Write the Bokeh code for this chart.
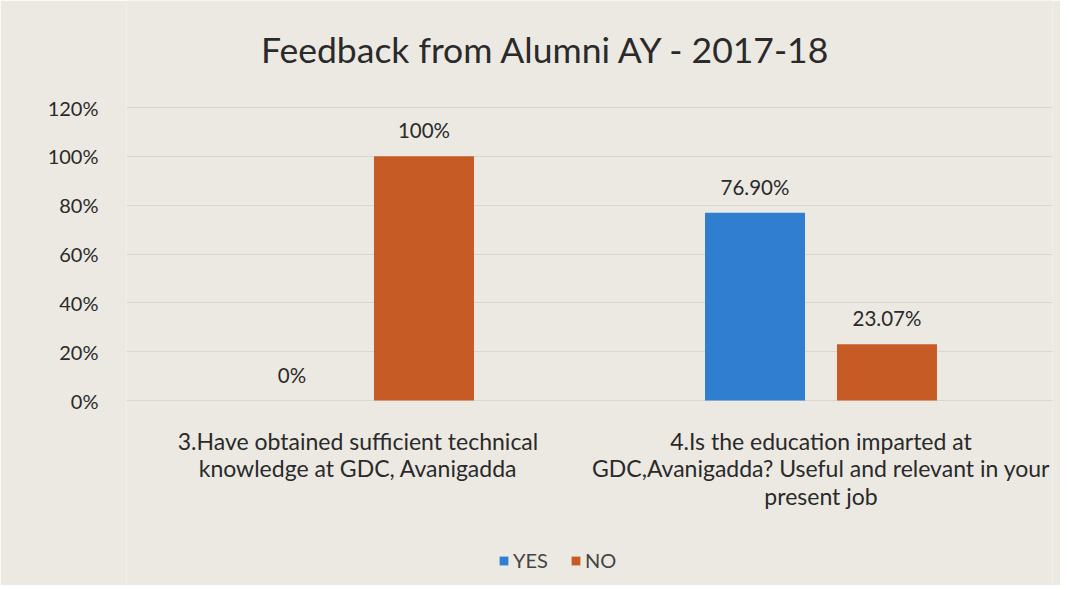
from bokeh.plotting import figure
from bokeh.models import (ColumnDataSource, FactorRange, Range1d, LabelSet, Label, Legend,
                          LegendItem, NumeralTickFormatter, FixedTicker)
from bokeh.core.properties import value
from bokeh.transform import dodge
from bokeh.embed import file_html
from bokeh.resources import INLINE

# ---- data ----
title_text = "Feedback from Alumni AY - 2017-18"
categories = [
    "3.Have obtained sufficient technical\nknowledge at GDC, Avanigadda",
    "4.Is the education imparted at\nGDC,Avanigadda? Useful and relevant in your\npresent job",
]
series_names = ["YES", "NO"]
yes_values = [0.0, 0.769]
no_values = [1.0, 0.2307]
yes_labels = ["0%", "76.90%"]
no_labels = ["100%", "23.07%"]
y_ticks = [0, 0.2, 0.4, 0.6, 0.8, 1.0, 1.2]

# ---- styling ----
FONT = "Lato"
BG = "#ECE9E3"
BLUE = "#2F7ECF"
ORANGE = "#C75B25"
TXT = "#2A2A2A"

W, H = 1060, 585
LEFT, RIGHT = 126, 8
TOP_PX = 107           # pixel row of the 120% line
PLOT_PX = 293          # pixels between 0% and 120%
y_top_tick = 1.2
px_per_unit = PLOT_PX / y_top_tick
y_max = y_top_tick + TOP_PX / px_per_unit                 # room above for the title
y_min = -(H - TOP_PX - PLOT_PX) / px_per_unit             # room below for labels + legend

src = ColumnDataSource(dict(cat=categories, yes=yes_values, no=no_values,
                            yes_lab=yes_labels, no_lab=no_labels))

p = figure(x_range=FactorRange(*categories, range_padding=0),
           y_range=Range1d(y_min, y_max),
           width=W, height=H, output_backend="svg", toolbar_location=None,
           min_border_left=LEFT, min_border_right=RIGHT, min_border_top=0,
           min_border_bottom=0)

p.background_fill_color = BG
p.border_fill_color = BG
p.outline_line_color = None

# title, centred at x=546 px
p.add_layout(Label(text=title_text, x=546 - LEFT, y=H - 49, x_units="screen", y_units="screen",
                   text_align="center", text_baseline="alphabetic", text_font=FONT,
                   text_font_size="35.5px", text_color=TXT))

r_yes = p.vbar(x=dodge("cat", -0.1425, range=p.x_range), top="yes", width=0.216,
               source=src, fill_color=BLUE, line_color=None)
r_no = p.vbar(x=dodge("cat", 0.1425, range=p.x_range), top="no", width=0.216,
              source=src, fill_color=ORANGE, line_color=None)

lab_kw = dict(text_align="center", text_baseline="bottom", text_font=value(FONT),
              text_font_size="20.5px", text_color=TXT, y_offset=14, source=src)
p.add_layout(LabelSet(x=dodge("cat", -0.1425, range=p.x_range), y="yes", text="yes_lab", **lab_kw))
p.add_layout(LabelSet(x=dodge("cat", 0.1425, range=p.x_range), y="no", text="no_lab", **lab_kw))

# category labels below the 0% line, one centred line at a time
split = [c.split("\n") for c in categories]
n_lines = max(len(s) for s in split)
for i in range(n_lines):
    xs, ts = [], []
    for c, s in zip(categories, split):
        if i < len(s):
            xs.append(c)
            ts.append(s[i])
    line_src = ColumnDataSource(dict(x=xs, y=[0] * len(xs), t=ts))
    p.add_layout(LabelSet(x="x", y="y", text="t", source=line_src, text_align="center",
                          text_baseline="middle", text_font=value(FONT),
                          text_font_size="23px", text_color=TXT,
                          y_offset=-(40 + 27.5 * i)))

p.xaxis.visible = False
p.yaxis.ticker = FixedTicker(ticks=y_ticks)
p.yaxis.formatter = NumeralTickFormatter(format="0%")
p.yaxis.axis_line_color = None
p.yaxis.major_tick_line_color = None
p.yaxis.minor_tick_line_color = None
p.yaxis.major_label_text_font = FONT
p.yaxis.major_label_text_font_size = "20px"
p.yaxis.major_label_text_color = TXT
p.yaxis.major_label_standoff = 22

p.xgrid.grid_line_color = None
p.ygrid.grid_line_color = "#D9D6CF"
p.ygrid.grid_line_width = 1

legend = Legend(items=[LegendItem(label=series_names[0], renderers=[r_yes]),
                       LegendItem(label=series_names[1], renderers=[r_no])],
                orientation="horizontal", location=(362, 3),
                label_text_font=FONT, label_text_font_size="20px", label_text_color="#444444",
                glyph_width=11, glyph_height=11, label_standoff=4, spacing=22,
                background_fill_alpha=0, border_line_alpha=0)
p.add_layout(legend, "center")

open("out.html", "w").write(file_html(p, INLINE))
